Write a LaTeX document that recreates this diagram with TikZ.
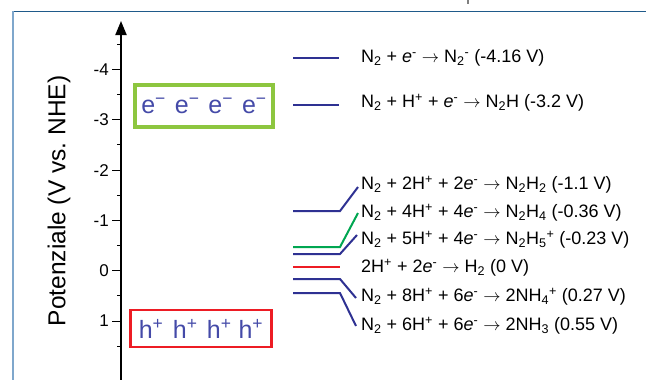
\documentclass[tikz,border=0pt]{standalone}
\usepackage{fontspec}
\setmainfont{Liberation Sans}
\usetikzlibrary{arrows.meta}

\definecolor{lvlblue}{RGB}{46,49,146}
\definecolor{lvlgreen}{RGB}{0,166,81}
\definecolor{lvlred}{RGB}{237,28,36}
\definecolor{boxgreen}{RGB}{141,198,63}
\definecolor{txtblue}{RGB}{68,74,168}
\definecolor{frametop}{RGB}{31,90,138}
\definecolor{frameleft}{RGB}{127,167,204}

\newcommand{\rsub}[1]{\textsubscript{#1}}
\newcommand{\rsup}[1]{\textsuperscript{#1}}
\newcommand{\elec}{\textit{e}\rsup{-}}
\newcommand{\yields}{$\rightarrow$}

\begin{document}
\begin{tikzpicture}[x=1pt,y=-1pt,
    lvl/.style={line width=2pt},
    rxn/.style={anchor=west, inner sep=2pt, font=\fontsize{18}{21}\selectfont},
    carrier/.style={text=txtblue, font=\fontsize{25}{29}\selectfont},
    ticklab/.style={anchor=east, inner sep=0pt, font=\fontsize{17}{20}\selectfont}]

      % potenziale -> coordinata verticale
      \def\vzero{270.7}  % y di 0 V
      \def\vstep{50.3}   % pixel per volt

      \useasboundingbox (0,0) rectangle (646,380);

      % cornice
      \draw[frametop, line width=1.2pt] (12,11.5) -- (646,11.5);
      \draw[frameleft, line width=2pt] (12.5,11) -- (12.5,380);
      \draw[gray, line width=1.5pt] (468,0) -- (468,3.5);

      % asse
      \draw[line width=2pt, -{Triangle[width=11pt,length=14pt]}] (121,380) -- (121,21);
      \foreach \v in {-4.5,-3.5,...,1.5}
        \draw[line width=1pt] (117,\vzero+\vstep*\v) -- (121,\vzero+\vstep*\v);
      \foreach \v/\t in {-4/-4,-3/-3,-2/-2,-1/-1,0/0,1/1} {
        \draw[line width=1pt] (112,\vzero+\vstep*\v) -- (121,\vzero+\vstep*\v);
        \node[ticklab] (t\v) at (109,\vzero+\vstep*\v) {\t};
      }

      \node[rotate=90, font=\fontsize{24.5}{29}\selectfont] (ylab) at (59,201) {Potenziale (V vs.\ NHE)};

      % elettroni e lacune
      \node[carrier, draw=boxgreen, line width=4pt, minimum width=138pt, minimum height=42pt]
        (ebox) at (204,106) {e\rsup{−}\hspace{2pt} e\rsup{−}\hspace{2pt} e\rsup{−}\hspace{2pt} e\rsup{−}};
      \node[carrier, draw=lvlred, line width=2.5pt, minimum width=141pt, minimum height=37pt]
        (hbox) at (201,328.5) {h\rsup{+}\hspace{2.5pt} h\rsup{+}\hspace{2.5pt} h\rsup{+}\hspace{0pt} h\rsup{+}};

      % reazioni
      \node[rxn] (r1) at (359,58) {N\rsub{2} + \elec{} \yields{} N\rsub{2}\rsup{-} (-4.16 V)};
      \node[rxn] (r2) at (359,103) {N\rsub{2} + H\rsup{+} + \elec{} \yields{} N\rsub{2}H (-3.2 V)};
      \node[rxn] (r3) at (359,185) {N\rsub{2} + 2H\rsup{+} + 2\elec{} \yields{} N\rsub{2}H\rsub{2} (-1.1 V)};
      \node[rxn] (r4) at (359,213) {N\rsub{2} + 4H\rsup{+} + 4\elec{} \yields{} N\rsub{2}H\rsub{4} (-0.36 V)};
      \node[rxn] (r5) at (359,240) {N\rsub{2} + 5H\rsup{+} + 4\elec{} \yields{} N\rsub{2}H\rsub{5}\rsup{+} (-0.23 V)};
      \node[rxn] (r6) at (359,268) {2H\rsup{+} + 2\elec{} \yields{} H\rsub{2} (0 V)};
      \node[rxn] (r7) at (359,297) {N\rsub{2} + 8H\rsup{+} + 6\elec{} \yields{} 2NH\rsub{4}\rsup{+} (0.27 V)};
      \node[rxn] (r8) at (359,326) {N\rsub{2} + 6H\rsup{+} + 6\elec{} \yields{} 2NH\rsub{3} (0.55 V)};

      % livelli
      \draw[lvl, lvlblue] (293,58) -- (339,58);
      \draw[lvl, lvlblue] (293,105) -- (339,105);
      \draw[lvl, lvlblue] (293,211) -- (340,211) -- ([xshift=-1pt,yshift=-2pt]r3.west);
      \draw[lvl, lvlgreen] (293,247) -- (340,247) -- ([xshift=-1pt]r4.west);
      \draw[lvl, lvlblue] (293,254) -- (340,254) -- ([xshift=-2pt,yshift=5pt]r5.west);
      \draw[lvl, lvlred] (293,267) -- (340,267);
      \draw[lvl, lvlblue] (293,279) -- (340,279) -- ([xshift=-3pt,yshift=-1pt]r7.west);
      \draw[lvl, lvlblue] (293,293) -- (340,293) -- ([xshift=-3pt]r8.west);
    \end{tikzpicture}
\end{document}
